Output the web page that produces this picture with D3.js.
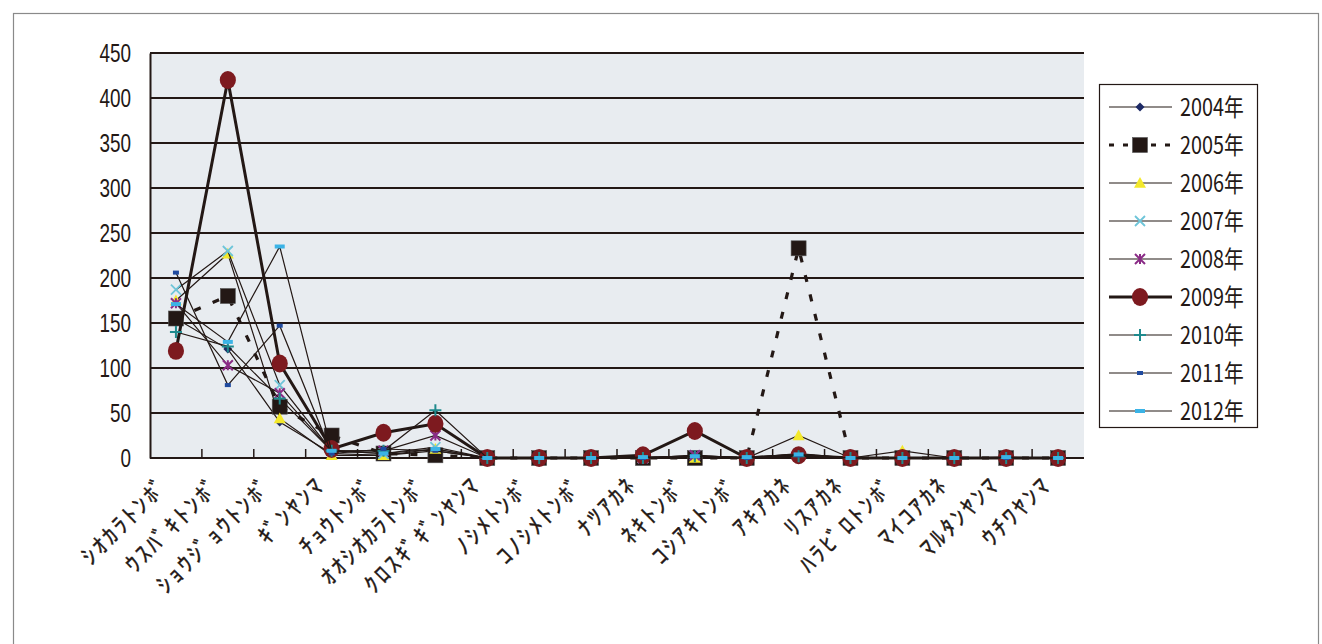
<!DOCTYPE html>
<html>
<head>
<meta charset="utf-8">
<script src="https://cdn.jsdelivr.net/npm/d3@7"></script>
<style>
  html, body { margin: 0; padding: 0; background: #ffffff; }
  svg { display: block; }
</style>
</head>
<body>
<svg id="chart" width="1322" height="644"></svg>
<script>
// Species observed (half-width katakana as printed on the axis)
const categories = [
  "ｼｵｶﾗﾄﾝﾎﾞ", "ｳｽﾊﾞｷﾄﾝﾎﾞ", "ｼｮｳｼﾞｮｳﾄﾝﾎﾞ", "ｷﾞﾝﾔﾝﾏ", "ﾁｮｳﾄﾝﾎﾞ", "ｵｵｼｵｶﾗﾄﾝﾎﾞ",
  "ｸﾛｽｷﾞｷﾞﾝﾔﾝﾏ", "ﾉｼﾒﾄﾝﾎﾞ", "ｺﾉｼﾒﾄﾝﾎﾞ", "ﾅﾂｱｶﾈ", "ﾈｷﾄﾝﾎﾞ", "ｺｼｱｷﾄﾝﾎﾞ",
  "ｱｷｱｶﾈ", "ﾘｽｱｶﾈ", "ﾊﾗﾋﾞﾛﾄﾝﾎﾞ", "ﾏｲｺｱｶﾈ", "ﾏﾙﾀﾝﾔﾝﾏ", "ｳﾁﾜﾔﾝﾏ"
];

// Counts per year
const y2004 = [155, 121, 40, 5, 3, 8, 0, 0, 0, 0, 2, 0, 2, 0, 0, 0, 0, 0];
const y2005 = [155, 180, 57, 25, 5, 3, 0, 0, 0, 0, 0, 0, 233, 0, 0, 0, 0, 0];
const y2006 = [175, 227, 44, 3, 3, 10, 0, 0, 0, 0, 0, 0, 25, 0, 8, 0, 0, 0];
const y2007 = [187, 230, 81, 8, 5, 12, 0, 0, 0, 0, 3, 0, 4, 0, 0, 0, 0, 0];
const y2008 = [172, 103, 72, 8, 8, 25, 0, 0, 0, 0, 3, 0, 5, 0, 0, 0, 0, 0];
const y2009 = [119, 420, 105, 10, 28, 38, 0, 0, 0, 3, 30, 0, 3, 0, 0, 0, 0, 0];
const y2010 = [140, 124, 66, 8, 8, 53, 0, 0, 0, 0, 2, 0, 2, 0, 0, 0, 0, 0];
const y2011 = [206, 81, 147, 5, 10, 8, 0, 0, 0, 0, 2, 0, 3, 0, 0, 0, 0, 0];
const y2012 = [171, 129, 235, 8, 5, 10, 0, 0, 0, 1, 2, 1, 4, 0, 0, 0, 1, 0];

const yTicks = [0, 50, 100, 150, 200, 250, 300, 350, 400, 450];

const seriesNames = ["2004年", "2005年", "2006年", "2007年", "2008年", "2009年", "2010年", "2011年", "2012年"];
const seriesValues = [y2004, y2005, y2006, y2007, y2008, y2009, y2010, y2011, y2012];

// Per-series appearance
const styles = [
  { marker: "diamond",  color: "#1d2a66", size: 9,  line: 1.2, dash: null },
  { marker: "square",   color: "#231815", size: 15, line: 3.2, dash: "7,13" },
  { marker: "triangle", color: "#f3e82b", size: 12, line: 1.2, dash: null },
  { marker: "x",        color: "#6ec5d9", size: 10, line: 1.2, dash: null },
  { marker: "star",     color: "#8a2b86", size: 10, line: 1.2, dash: null },
  { marker: "circle",   color: "#7d1a1f", size: 17, line: 3,   dash: null },
  { marker: "plus",     color: "#1f8a8d", size: 12, line: 1.2, dash: null },
  { marker: "dashSmall",color: "#1f4a9f", size: 6,  line: 1.2, dash: null },
  { marker: "dash",     color: "#3bb3e6", size: 10, line: 1.2, dash: null }
];

const ink = "#231815";
const svg = d3.select("#chart");

// Outer frame
svg.append("rect")
  .attr("x", 13.5).attr("y", 13.5).attr("width", 1305).attr("height", 700)
  .attr("fill", "none").attr("stroke", "#8a8a8a").attr("stroke-width", 1.2);

const plot = { left: 150, right: 1084, top: 53, bottom: 458 };

const x = d3.scaleBand().domain(categories).range([plot.left, plot.right]);
const y = d3.scaleLinear().domain([0, 450]).range([plot.bottom, plot.top]);

// Plot background
svg.append("rect")
  .attr("x", plot.left).attr("y", plot.top)
  .attr("width", plot.right - plot.left).attr("height", plot.bottom - plot.top)
  .attr("fill", "#e8ecf0");

// Horizontal gridlines
svg.append("g")
  .selectAll("line")
  .data(yTicks.filter(d => d > 0))
  .join("line")
  .attr("x1", plot.left).attr("x2", plot.right)
  .attr("y1", d => y(d)).attr("y2", d => y(d))
  .attr("stroke", ink).attr("stroke-width", 1.8);

// Y axis (condensed, tall digits)
const sx = 0.86, sy = 1.15;
const yAxis = svg.append("g")
  .attr("transform", `translate(${plot.left},0)`)
  .call(d3.axisLeft(y).tickValues(yTicks).tickSize(0).tickPadding(19));
yAxis.select(".domain").attr("stroke", ink).attr("stroke-width", 2);
yAxis.selectAll(".tick text")
  .attr("fill", ink)
  .attr("transform", `scale(${sx},${sy})`)
  .attr("x", -19 / sx).attr("y", 0).attr("dy", "0.34em")
  .style("font-family", "'Liberation Sans Narrow', 'Arial Narrow', 'Liberation Sans', sans-serif")
  .style("font-size", "22px");

// X axis line with inward ticks between categories
svg.append("line")
  .attr("x1", plot.left).attr("x2", plot.right)
  .attr("y1", plot.bottom).attr("y2", plot.bottom)
  .attr("stroke", ink).attr("stroke-width", 2);

const boundaries = categories.slice(1).map(c => x(c));
svg.append("g")
  .selectAll("line")
  .data(boundaries)
  .join("line")
  .attr("x1", d => d).attr("x2", d => d)
  .attr("y1", plot.bottom).attr("y2", plot.bottom - 9)
  .attr("stroke", ink).attr("stroke-width", 1.5);

// Category labels, rotated
const cx = c => x(c) + x.bandwidth() / 2;
svg.append("g")
  .selectAll("text")
  .data(categories)
  .join("text")
  .attr("transform", c => `translate(${cx(c) - 5},${plot.bottom + 28}) rotate(-45)`)
  .attr("text-anchor", "end")
  .attr("fill", ink)
  .style("font-family", "'Noto Sans CJK JP', sans-serif")
  .style("font-weight", "400")
  .style("font-size", "23px")
  .style("letter-spacing", "3px")
  .style("stroke", ink)
  .style("stroke-width", "0.4px")
  .text(c => c);

// Marker shapes
function drawMarker(g, type, color, size) {
  const s = size / 2;
  switch (type) {
    case "diamond":
      g.append("path").attr("d", `M0,${-s}L${s},0L0,${s}L${-s},0Z`).attr("fill", color);
      break;
    case "square":
      g.append("rect").attr("x", -s).attr("y", -s).attr("width", size).attr("height", size)
        .attr("fill", color).attr("stroke", "#555").attr("stroke-width", 0.6);
      break;
    case "triangle":
      g.append("path").attr("d", `M0,${-s}L${s},${s * 0.8}L${-s},${s * 0.8}Z`).attr("fill", color);
      break;
    case "x":
      g.append("path").attr("d", `M${-s},${-s}L${s},${s}M${-s},${s}L${s},${-s}`)
        .attr("stroke", color).attr("stroke-width", 1.8);
      break;
    case "star":
      g.append("path").attr("d", `M${-s},${-s}L${s},${s}M${-s},${s}L${s},${-s}M0,${-s}L0,${s}`)
        .attr("stroke", color).attr("stroke-width", 2);
      break;
    case "circle":
      g.append("ellipse").attr("rx", s * 0.95).attr("ry", s * 1.05).attr("fill", color);
      break;
    case "plus":
      g.append("path").attr("d", `M${-s},0L${s},0M0,${-s}L0,${s}`)
        .attr("stroke", color).attr("stroke-width", 2);
      break;
    case "dashSmall":
      g.append("rect").attr("x", -s).attr("y", -2).attr("width", size).attr("height", 4).attr("fill", color);
      break;
    case "dash":
      g.append("rect").attr("x", -s).attr("y", -2).attr("width", size).attr("height", 4).attr("fill", color);
      break;
  }
}

// Series lines and markers
const line = d3.line().x((d, i) => cx(categories[i])).y(d => y(d));
const seriesLayer = svg.append("g");
seriesValues.forEach((vals, k) => {
  const st = styles[k];
  const g = seriesLayer.append("g");
  g.append("path")
    .datum(vals)
    .attr("d", line)
    .attr("fill", "none")
    .attr("stroke", ink)
    .attr("stroke-width", st.line)
    .attr("stroke-dasharray", st.dash);
  g.selectAll("g.pt")
    .data(vals)
    .join("g")
    .attr("class", "pt")
    .attr("transform", (d, i) => `translate(${cx(categories[i])},${y(d)})`)
    .each(function () { drawMarker(d3.select(this), st.marker, st.color, st.size); });
});

// Legend
const legend = svg.append("g");
legend.append("rect")
  .attr("x", 1099.5).attr("y", 84.5).attr("width", 158).attr("height", 343)
  .attr("fill", "#ffffff").attr("stroke", ink).attr("stroke-width", 1.2);

const legendY = d3.scalePoint().domain(seriesNames).range([107, 411]);
seriesNames.forEach((name, k) => {
  const st = styles[k];
  const ly = legendY(name);
  legend.append("line")
    .attr("x1", 1109).attr("x2", 1172).attr("y1", ly).attr("y2", ly)
    .attr("stroke", ink).attr("stroke-width", st.line)
    .attr("stroke-dasharray", st.dash ? "5,9" : null);
  const m = legend.append("g").attr("transform", `translate(1140,${ly})`);
  drawMarker(m, st.marker, st.color, st.size);
  legend.append("text")
    .attr("x", 1180 / 0.9).attr("y", 0)
    .attr("transform", `translate(0,${ly}) scale(0.9,1.1)`)
    .attr("dy", "0.36em")
    .attr("fill", ink)
    .style("font-family", "'Liberation Sans Narrow', 'Arial Narrow', 'Noto Sans CJK JP', sans-serif")
    .style("font-size", "22px")
    .text(name);
});
</script>
</body>
</html>
